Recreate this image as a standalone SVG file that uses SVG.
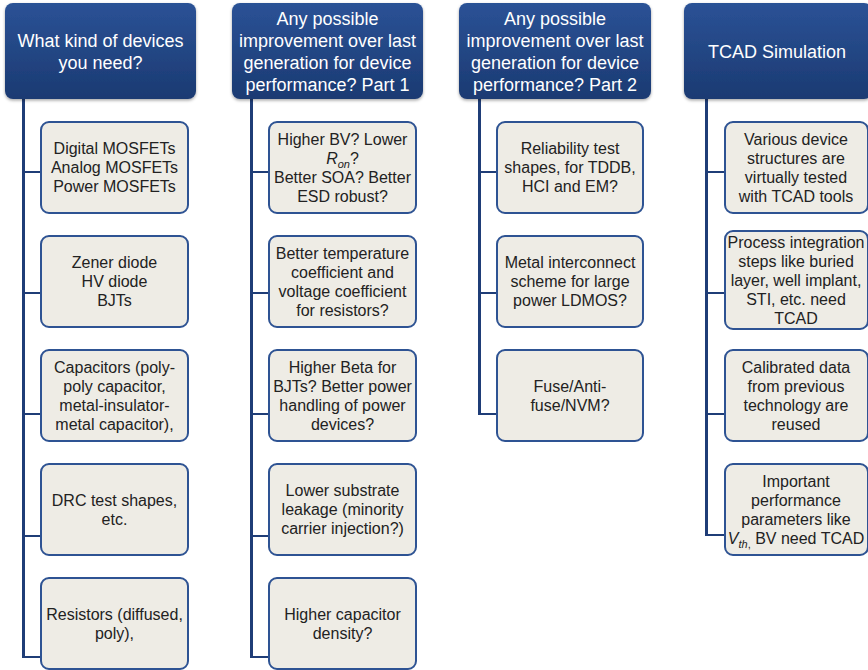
<svg xmlns="http://www.w3.org/2000/svg" width="868" height="670" viewBox="0 0 868 670">
<defs>
<linearGradient id="hg" x1="0" y1="0" x2="0" y2="1">
<stop offset="0" stop-color="#2b5296"/>
<stop offset="1" stop-color="#1b3a72"/>
</linearGradient>
<filter id="sh" x="-10%" y="-10%" width="120%" height="130%">
<feDropShadow dx="0" dy="1.5" stdDeviation="1.5" flood-color="#000" flood-opacity="0.35"/>
</filter>
<style>
.hd{fill:url(#hg);filter:url(#sh)}
.ht{font-family:"Liberation Sans",Arial,sans-serif;font-size:18px;fill:#ffffff;text-anchor:middle}
.bx{fill:#eeece5;stroke:#2e5393;stroke-width:2}
.bt{font-family:"Liberation Sans",Arial,sans-serif;font-size:16px;fill:#222222;text-anchor:middle}
.vl{stroke:#1f3d77;stroke-width:3;fill:none}
.hl{stroke:#1f3d77;stroke-width:2;fill:none}
.it{font-style:italic}
</style>
</defs>
<g id="connectors">
<path class="vl" d="M23.5 99 V657"/>
<path class="hl" d="M23.5 172 H41 M23.5 293 H41 M23.5 414 H41 M23.5 536 H41 M22 657 H41"/>
<path class="vl" d="M251.5 99 V657"/>
<path class="hl" d="M251.5 172 H269 M251.5 293 H269 M251.5 414 H269 M251.5 536 H269 M250 657 H269"/>
<path class="vl" d="M479.5 99 V414"/>
<path class="hl" d="M479.5 172 H497 M479.5 293 H497 M478 414 H497"/>
<path class="vl" d="M706.5 99 V535"/>
<path class="hl" d="M706.5 172 H725 M706.5 293 H725 M706.5 414 H725 M705 535 H725"/>
</g>
<g id="h1"><rect class="hd" x="5" y="3" width="191" height="96" rx="8"/>
<text class="ht" x="100.5" y="46.5">What kind of devices</text>
<text class="ht" x="100.5" y="68.5">you need?</text></g>
<g id="h2"><rect class="hd" x="232" y="3" width="191" height="96" rx="8"/>
<text class="ht" x="327.5" y="24.5">Any possible</text>
<text class="ht" x="327.5" y="46.5">improvement over last</text>
<text class="ht" x="327.5" y="68.5">generation for device</text>
<text class="ht" x="327.5" y="90.5">performance? Part 1</text></g>
<g id="h3"><rect class="hd" x="459" y="3" width="192" height="96" rx="8"/>
<text class="ht" x="555" y="24.5">Any possible</text>
<text class="ht" x="555" y="46.5">improvement over last</text>
<text class="ht" x="555" y="68.5">generation for device</text>
<text class="ht" x="555" y="90.5">performance? Part 2</text></g>
<g id="h4"><rect class="hd" x="684" y="3" width="188" height="96" rx="8"/>
<text class="ht" x="777" y="57.5">TCAD Simulation</text></g>

<g id="c1b1"><rect class="bx" x="41" y="122" width="147" height="91" rx="8"/>
<text class="bt" x="114.5" y="154">Digital MOSFETs</text>
<text class="bt" x="114.5" y="173">Analog MOSFETs</text>
<text class="bt" x="114.5" y="192">Power MOSFETs</text></g>
<g id="c1b2"><rect class="bx" x="41" y="236" width="147" height="91" rx="8"/>
<text class="bt" x="114.5" y="268">Zener diode</text>
<text class="bt" x="114.5" y="287">HV diode</text>
<text class="bt" x="114.5" y="306">BJTs</text></g>
<g id="c1b3"><rect class="bx" x="41" y="350" width="147" height="91" rx="8"/>
<text class="bt" x="114.5" y="372.5">Capacitors (poly-</text>
<text class="bt" x="114.5" y="391.5">poly capacitor,</text>
<text class="bt" x="114.5" y="410.5">metal-insulator-</text>
<text class="bt" x="114.5" y="429.5">metal capacitor),</text></g>
<g id="c1b4"><rect class="bx" x="41" y="464" width="147" height="91" rx="8"/>
<text class="bt" x="114.5" y="505.5">DRC test shapes,</text>
<text class="bt" x="114.5" y="524.5">etc.</text></g>
<g id="c1b5"><rect class="bx" x="41" y="578" width="147" height="91" rx="8"/>
<text class="bt" x="114.5" y="619.5">Resistors (diffused,</text>
<text class="bt" x="114.5" y="638.5">poly),</text></g>

<g id="c2b1"><rect class="bx" x="269" y="122" width="147" height="91" rx="8"/>
<text class="bt" x="342.5" y="144.5">Higher BV? Lower</text>
<text class="bt" x="342.5" y="163.5"><tspan class="it">R</tspan><tspan class="it" font-size="11" dy="4">on</tspan><tspan dy="-4">?</tspan></text>
<text class="bt" x="342.5" y="182.5">Better SOA? Better</text>
<text class="bt" x="342.5" y="201.5">ESD robust?</text></g>
<g id="c2b2"><rect class="bx" x="269" y="236" width="147" height="91" rx="8"/>
<text class="bt" x="342.5" y="258.5">Better temperature</text>
<text class="bt" x="342.5" y="277.5">coefficient and</text>
<text class="bt" x="342.5" y="296.5">voltage coefficient</text>
<text class="bt" x="342.5" y="315.5">for resistors?</text></g>
<g id="c2b3"><rect class="bx" x="269" y="350" width="147" height="91" rx="8"/>
<text class="bt" x="342.5" y="372.5">Higher Beta for</text>
<text class="bt" x="342.5" y="391.5">BJTs? Better power</text>
<text class="bt" x="342.5" y="410.5">handling of power</text>
<text class="bt" x="342.5" y="429.5">devices?</text></g>
<g id="c2b4"><rect class="bx" x="269" y="464" width="147" height="91" rx="8"/>
<text class="bt" x="342.5" y="496">Lower substrate</text>
<text class="bt" x="342.5" y="515">leakage (minority</text>
<text class="bt" x="342.5" y="534">carrier injection?)</text></g>
<g id="c2b5"><rect class="bx" x="269" y="578" width="147" height="91" rx="8"/>
<text class="bt" x="342.5" y="619.5">Higher capacitor</text>
<text class="bt" x="342.5" y="638.5">density?</text></g>

<g id="c3b1"><rect class="bx" x="497" y="122" width="146" height="91" rx="8"/>
<text class="bt" x="570" y="154">Reliability test</text>
<text class="bt" x="570" y="173">shapes, for TDDB,</text>
<text class="bt" x="570" y="192">HCI and EM?</text></g>
<g id="c3b2"><rect class="bx" x="497" y="236" width="146" height="91" rx="8"/>
<text class="bt" x="570" y="268">Metal interconnect</text>
<text class="bt" x="570" y="287">scheme for large</text>
<text class="bt" x="570" y="306">power LDMOS?</text></g>
<g id="c3b3"><rect class="bx" x="497" y="350" width="146" height="91" rx="8"/>
<text class="bt" x="570" y="391.5">Fuse/Anti-</text>
<text class="bt" x="570" y="410.5">fuse/NVM?</text></g>

<g id="c4b1"><rect class="bx" x="725" y="122" width="143" height="91" rx="8"/>
<text class="bt" x="796" y="144.5">Various device</text>
<text class="bt" x="796" y="163.5">structures are</text>
<text class="bt" x="796" y="182.5">virtually tested</text>
<text class="bt" x="796" y="201.5">with TCAD tools</text></g>
<g id="c4b2"><rect class="bx" x="725" y="231" width="143" height="98" rx="8"/>
<text class="bt" x="796" y="247.5">Process integration</text>
<text class="bt" x="796" y="266.5">steps like buried</text>
<text class="bt" x="796" y="285.5">layer, well implant,</text>
<text class="bt" x="796" y="304.5">STI, etc. need</text>
<text class="bt" x="796" y="323.5">TCAD</text></g>
<g id="c4b3"><rect class="bx" x="725" y="350" width="143" height="91" rx="8"/>
<text class="bt" x="796" y="372.5">Calibrated data</text>
<text class="bt" x="796" y="391.5">from previous</text>
<text class="bt" x="796" y="410.5">technology are</text>
<text class="bt" x="796" y="429.5">reused</text></g>
<g id="c4b4"><rect class="bx" x="725" y="464" width="143" height="91" rx="8"/>
<text class="bt" x="796" y="486.5">Important</text>
<text class="bt" x="796" y="505.5">performance</text>
<text class="bt" x="796" y="524.5">parameters like</text>
<text class="bt" x="796" y="543.5"><tspan class="it">V</tspan><tspan class="it" font-size="11" dy="4">th</tspan><tspan font-size="11" dy="0">,</tspan><tspan dy="-4"> BV need TCAD</tspan></text></g>
</svg>
